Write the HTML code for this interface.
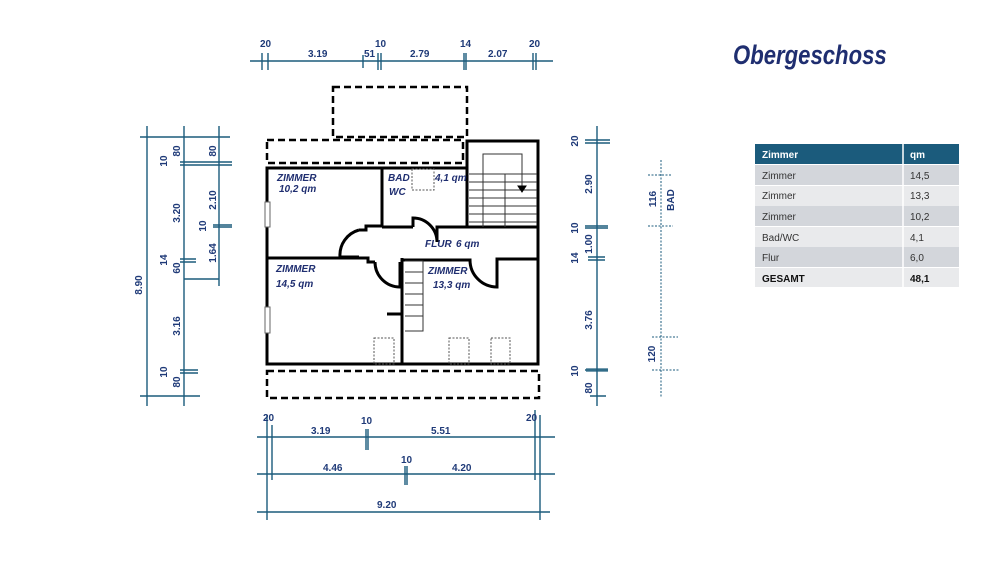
<!DOCTYPE html>
<html><head><meta charset="utf-8"><style>
html,body{margin:0;padding:0;background:#fff;}
svg{display:block}
.d{fill:#1f3a78;font-family:"Liberation Sans",sans-serif;font-size:10px;font-weight:bold;}
.r{fill:#1f2e70;font-family:"Liberation Sans",sans-serif;font-size:10px;font-style:italic;font-weight:bold;}
.t{font-family:"Liberation Sans",sans-serif;font-size:10px;fill:#333;}
</style></head><body>
<svg width="1000" height="563" viewBox="0 0 1000 563" xmlns="http://www.w3.org/2000/svg">
<!-- Title -->
<text x="733" y="64" transform="translate(733 0) scale(0.82 1) translate(-733 0)" style="font-family:'Liberation Sans',sans-serif;font-size:27px;font-style:italic;font-weight:bold;fill:#1f2e70">Obergeschoss</text>
<!-- Table -->
<rect x="755" y="144" width="204" height="20" fill="#1b5b7c"/>
<line x1="903" y1="144" x2="903" y2="287" stroke="#fff" stroke-width="1.5"/>
<rect x="755" y="165" width="204" height="20" fill="#d3d6db"/>
<rect x="755" y="186" width="204" height="20" fill="#e9eaec"/>
<rect x="755" y="206" width="204" height="20" fill="#d3d6db"/>
<rect x="755" y="227" width="204" height="20" fill="#e9eaec"/>
<rect x="755" y="247" width="204" height="20" fill="#d3d6db"/>
<rect x="755" y="268" width="204" height="19" fill="#e9eaec"/>
<line x1="903" y1="165" x2="903" y2="287" stroke="#fff" stroke-width="1.5"/>
<text x="762" y="158" class="t" style="fill:#fff;font-weight:bold">Zimmer</text>
<text x="910" y="158" class="t" style="fill:#fff;font-weight:bold">qm</text>
<text x="762" y="179" class="t">Zimmer</text><text x="910" y="179" class="t">14,5</text>
<text x="762" y="199" class="t">Zimmer</text><text x="910" y="199" class="t">13,3</text>
<text x="762" y="220" class="t">Zimmer</text><text x="910" y="220" class="t">10,2</text>
<text x="762" y="241" class="t">Bad/WC</text><text x="910" y="241" class="t">4,1</text>
<text x="762" y="261" class="t">Flur</text><text x="910" y="261" class="t">6,0</text>
<text x="762" y="282" class="t" style="font-weight:bold;fill:#111">GESAMT</text><text x="910" y="282" class="t" style="font-weight:bold;fill:#111">48,1</text>

<!-- Floor plan -->
<g fill="none" stroke="#000">
<rect x="333" y="87" width="134" height="50" stroke-width="2.5" stroke-dasharray="7,4"/>
<rect x="267" y="140" width="196" height="23" stroke-width="2.5" stroke-dasharray="7,4"/>
<rect x="267" y="371" width="272" height="27" stroke-width="2.5" stroke-dasharray="7,4"/>
<g stroke-width="3">
<path d="M267,168 H467 V141 H538 V364 H267 Z"/>
<path d="M467,141 V227"/>
<path d="M382,168 V226 H366 V230 H359"/>
<path d="M359,230 A26,26 0 0 0 340,257 H359"/>
<path d="M267,258 H368 V262 H375"/>
<path d="M375,262 A25,25 0 0 0 400,287 V262"/>
<path d="M402,258 V364"/>
<path d="M402,260 H470 A27,27 0 0 0 497,287 V259 H538"/>
<path d="M413,227 V218 A24,24 0 0 1 437,242 V227 H538"/>
<path d="M382,227 H413"/>
<path d="M387,314 H402"/>
</g>
<g stroke-width="1" stroke="#333">
<path d="M405,261 H423 V331 H405"/>
<path d="M405,272 H423 M405,283 H423 M405,294 H423 M405,305 H423 M405,316 H423"/>
<path d="M469,174 H537 M469,182 H537 M469,190 H537 M469,198 H537 M469,206 H537 M469,214 H537 M469,222 H537"/>
<path d="M483,227 V154 H522 V188"/>
<path d="M505,174 V227"/>
</g>
<path d="M518,186 L522,192 L526,186 Z" fill="#000"/>
<g stroke-width="1" stroke="#555" stroke-dasharray="2,1.5">
<rect x="412" y="169" width="22" height="21"/>
<rect x="374" y="338" width="20" height="26"/>
<rect x="449" y="338" width="20" height="26"/>
<rect x="491" y="338" width="19" height="26"/>
</g>
<g stroke-width="1" stroke="#666" fill="#fff">
<rect x="265" y="202" width="5" height="25"/>
<rect x="265" y="307" width="5" height="26"/>
</g>
</g>
<text x="277" y="181" class="r">ZIMMER</text><text x="279" y="192" class="r">10,2 qm</text>
<text x="388" y="181" class="r">BAD</text><text x="389" y="195" class="r">WC</text>
<text x="435" y="181" class="r">4,1 qm</text>
<text x="425" y="247" class="r">FLUR</text><text x="456" y="247" class="r">6 qm</text>
<text x="276" y="272" class="r">ZIMMER</text><text x="276" y="287" class="r">14,5 qm</text>
<text x="428" y="274" class="r">ZIMMER</text><text x="433" y="288" class="r">13,3 qm</text>

<!-- Dimensions -->
<g stroke="#1b5b7c" stroke-width="1.4" fill="none">
<!-- top -->
<path d="M250,61 H553"/>
<path d="M262,53 V70 M268,53 V70 M363,55 V68 M378,53 V70 M381,53 V70 M464,53 V70 M466,53 V70 M533,53 V70 M536,53 V70"/>
<!-- bottom -->
<path d="M257,437 H555 M257,474 H555 M257,512 H550"/>
<path d="M267,415 V520 M272,425 V480 M535,410 V480 M540,415 V520"/>
<path d="M366,429 V450 M368,429 V450 M405,466 V485 M407,466 V485"/>
<!-- left -->
<path d="M147,126 V406 M184,126 V406 M219,126 V286"/>
<path d="M140,137 H230 M140,396 H200 M184,279 H219"/>
<path d="M180,162 H232 M180,165 H232 M180,259 H196 M180,262 H196 M180,370 H198 M180,373 H198 M213,225 H232 M213,227 H232"/>
<!-- right -->
<path d="M597,126 V406"/>
<path d="M585,140 H610 M585,143 H610 M585,226 H608 M585,228 H608 M588,257 H605 M588,260 H605 M585,370 H608 M590,396 H606"/>
</g>
<rect x="586" y="368" width="22" height="4" fill="#1b5b7c" opacity="0.6"/>
<g stroke="#1b5b7c" stroke-width="1" stroke-dasharray="2,1.5" fill="none">
<path d="M661,160 V398 M648,175 H672 M648,226 H673 M652,337 H678 M652,370 H680"/>
</g>
<g class="d">
<text x="260" y="47">20</text><text x="308" y="57">3.19</text><text x="364" y="57">51</text><text x="375" y="47">10</text>
<text x="410" y="57">2.79</text><text x="460" y="47">14</text><text x="488" y="57">2.07</text><text x="529" y="47">20</text>
<text x="263" y="421">20</text><text x="311" y="434">3.19</text><text x="361" y="424">10</text><text x="431" y="434">5.51</text><text x="526" y="421">20</text>
<text x="323" y="471">4.46</text><text x="401" y="463">10</text><text x="452" y="471">4.20</text>
<text x="377" y="508">9.20</text>
</g>
<g class="d" text-anchor="middle">
<text transform="translate(142,285) rotate(-90)">8.90</text>
<text transform="translate(180,151) rotate(-90)">80</text>
<text transform="translate(167,161) rotate(-90)">10</text>
<text transform="translate(180,213) rotate(-90)">3.20</text>
<text transform="translate(167,260) rotate(-90)">14</text>
<text transform="translate(180,268) rotate(-90)">60</text>
<text transform="translate(180,326) rotate(-90)">3.16</text>
<text transform="translate(167,372) rotate(-90)">10</text>
<text transform="translate(180,382) rotate(-90)">80</text>
<text transform="translate(216,151) rotate(-90)">80</text>
<text transform="translate(216,200) rotate(-90)">2.10</text>
<text transform="translate(206,226) rotate(-90)">10</text>
<text transform="translate(216,253) rotate(-90)">1.64</text>
<text transform="translate(578,141) rotate(-90)">20</text>
<text transform="translate(592,184) rotate(-90)">2.90</text>
<text transform="translate(578,228) rotate(-90)">10</text>
<text transform="translate(592,244) rotate(-90)">1.00</text>
<text transform="translate(578,258) rotate(-90)">14</text>
<text transform="translate(592,320) rotate(-90)">3.76</text>
<text transform="translate(578,371) rotate(-90)">10</text>
<text transform="translate(592,388) rotate(-90)">80</text>
<text transform="translate(656,199) rotate(-90)">116</text>
<text transform="translate(674,200) rotate(-90)">BAD</text>
<text transform="translate(655,354) rotate(-90)">120</text>
</g>
</svg>
</body></html>
